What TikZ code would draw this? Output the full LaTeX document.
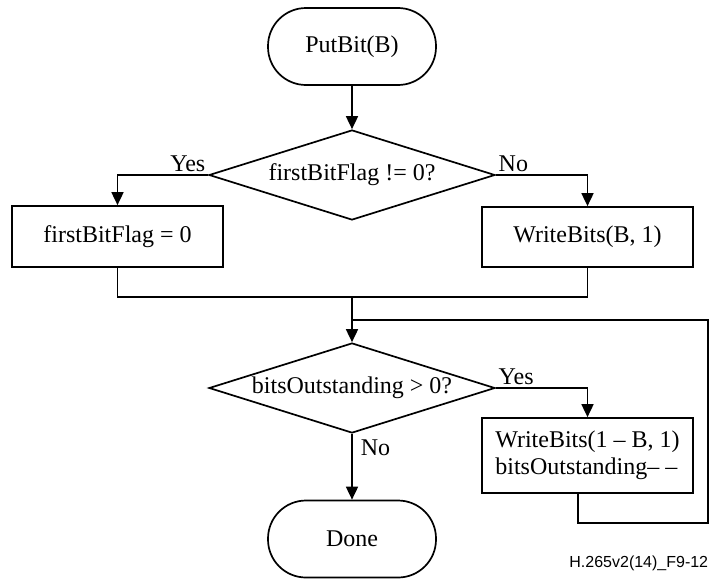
\documentclass[tikz,border=0pt]{standalone}
\usepackage{fontspec}
\setmainfont{Liberation Serif}
\newfontfamily\figidfont{Liberation Sans}
\usetikzlibrary{shapes.geometric,arrows.meta}

\begin{document}
\begin{tikzpicture}[x=0.5pt,y=-0.5pt,
  line width=0.85pt,
  font=\fontsize{12}{13.5}\selectfont,
  terminal/.style={draw, rectangle, rounded corners=19pt,
    minimum width=84pt, minimum height=38.5pt, inner sep=0pt},
  process/.style={draw, rectangle, minimum width=105.5pt, inner sep=0pt},
  decision/.style={draw, diamond, aspect=3.2, inner sep=0pt,
    minimum width=143pt, minimum height=45pt},
  flow/.style={-{Triangle[length=6.5pt,width=6pt]}},
  branch/.style={inner sep=1pt}
]
\useasboundingbox (0,0) rectangle (710,578);

% nodes of the flow chart
\node[terminal] (start) at (352,46.5) {PutBit(B)};
\node[decision] (d1) at (352,175) {firstBitFlag != 0?};
\node[process, minimum height=30.5pt] (set0) at (117.5,236.5) {firstBitFlag = 0};
\node[process, minimum height=30pt] (wb) at (587.5,237) {WriteBits(B, 1)};
\coordinate (join) at (352,297);
\coordinate (merge) at (352,320);
\node[decision] (d2) at (352,388) {bitsOutstanding > 0?};
\node[process, minimum height=37.5pt, align=left] (flush) at (587.5,455.5)
  {WriteBits(1 – B, 1)\\bitsOutstanding– –};
\node[terminal] (done) at (352,539) {Done};
\coordinate (loopL) at (578,523);
\coordinate (loopR) at (708,320);

% connectors
\draw[flow] (start) -- (d1);
\draw[flow] (d1.west) -| (set0.north);
\draw[flow] (d1.east) -| (wb.north);
\draw (set0.south) |- (join) -| (wb.south);
\draw[flow] (join) -- (d2.north);
\draw[flow] (d2.east) -| (flush.north);
\draw[flow] (d2.south) -- (done.north);
\draw (flush.south -| loopL) -- (loopL) -| (loopR) -- (merge);

% branch labels
\node[branch, anchor=south east] (y1) at (d1.west) {Yes};
\node[branch, anchor=south west] (n1) at (d1.east) {No};
\node[branch, anchor=south west] (y2) at (d2.east) {Yes};
\node[branch, anchor=north west, xshift=3pt, yshift=-1.5pt] (n2) at (d2.south) {No};

% figure identifier
\node[anchor=base east, inner sep=0pt, font=\figidfont\fontsize{8}{9}\selectfont]
  (figid) at (709,567) {H.265v2(14)\_F9-12};
\end{tikzpicture}
\end{document}
